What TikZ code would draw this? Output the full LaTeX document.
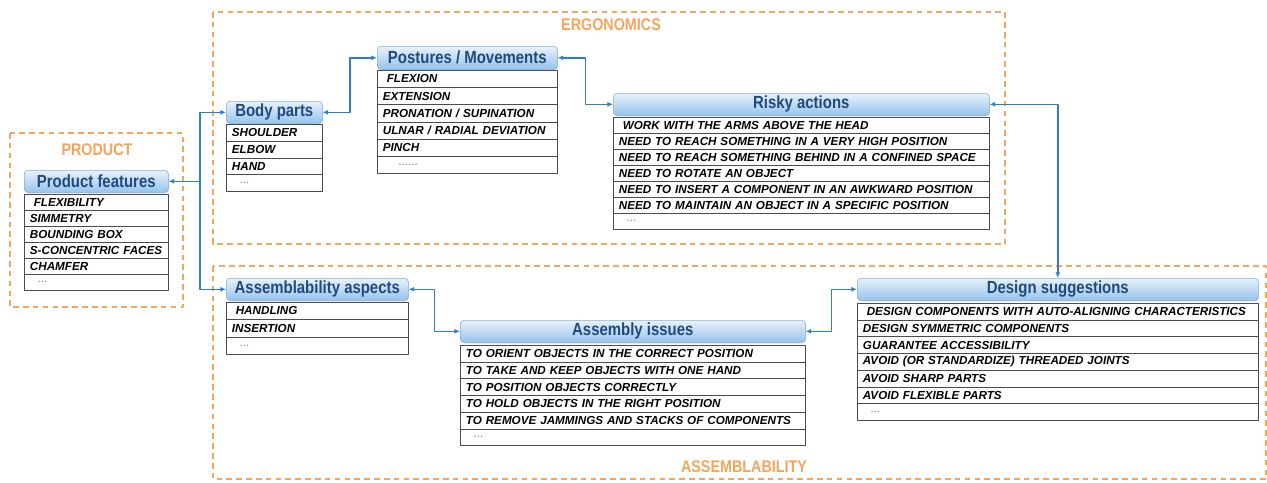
\documentclass[tikz,border=0pt]{standalone}
\usepackage{fontspec}
\setmainfont{Liberation Sans}
\newfontfamily\narrowfont[FakeStretch=0.85]{Liberation Sans}
\usetikzlibrary{arrows.meta,calc,shadows}
\definecolor{hdtop}{HTML}{E8F2FC}
\definecolor{hdbot}{HTML}{96C3EC}
\definecolor{hdline}{HTML}{7DB0DE}
\definecolor{hdtext}{HTML}{1F4A7F}
\definecolor{linkblue}{HTML}{2E80C2}
\definecolor{zoneorange}{HTML}{F5A45C}
\newcommand{\moreitems}{{\mdseries\upshape\color{gray}\ \ ...}}
\newcommand{\manyitems}{{\mdseries\upshape\color{gray}\ \ \ \ ......}}
\begin{document}
\begin{tikzpicture}[x=0.025cm,y=-0.025cm,line join=round,>={Latex[length=4pt,width=3.5pt]},
	header/.style={draw=hdline,rounded corners=2.5pt,top color=hdtop,bottom color=hdbot,
		drop shadow={opacity=0.25,shadow xshift=0.6pt,shadow yshift=-0.9pt},
		text=hdtext,font=\narrowfont\bfseries\fontsize{12.5}{13}\selectfont,
		anchor=north west,inner sep=0pt,minimum height=22*0.025cm},
	item/.style={draw=black!70,fill=white,anchor=north west,inner ysep=0pt,inner xsep=4pt,
		align=left,font=\bfseries\itshape\fontsize{8.3}{9}\selectfont},
	link/.style={draw=linkblue,line width=1.1pt},
	zone/.style={draw=zoneorange,line width=0.9pt,dash pattern=on 4pt off 3pt},
	zonelabel/.style={text=zoneorange,font=\narrowfont\bfseries\fontsize{12}{13}\selectfont}]
	\useasboundingbox (0,0) rectangle (1267,482);
	% Zones
	\draw[zone] (10,133) rectangle (183,307);
	\draw[zone] (213,12) rectangle (1005,244);
	\draw[zone] (213,266) rectangle (1266,479);
	\node[zonelabel] (lprod) at (97,150) {PRODUCT};
	\node[zonelabel] (lergo) at (611,25) {ERGONOMICS};
	\node[zonelabel] (lasse) at (744,467) {ASSEMBLABILITY};
	% Headers
	\node[header,minimum width=144*0.025cm] (pf) at (24,170) {Product features};
	\node[header,minimum width=96*0.025cm] (bp) at (226,101) {Body parts};
	\node[header,minimum width=180*0.025cm,minimum height=23*0.025cm] (pm) at (377,46) {Postures / Movements};
	\node[header,minimum width=376*0.025cm] (ra) at (613,93) {Risky actions};
	\node[header,minimum width=182*0.025cm] (aa) at (226,278) {Assemblability aspects};
	\node[header,minimum width=345*0.025cm] (ai) at (460,320) {Assembly issues};
	\node[header,minimum width=401*0.025cm] (ds) at (857,278) {Design suggestions};
	% Lists
	\foreach \t [count=\i] in {\ FLEXIBILITY,SIMMETRY,BOUNDING BOX,S-CONCENTRIC FACES,CHAMFER,\moreitems}
		\node[item,text width={144*0.025cm-8pt},minimum height=16*0.025cm] (pf\i) at (24,{194+(\i-1)*16}) {\t};
	\foreach \t [count=\i] in {SHOULDER,ELBOW,HAND,\moreitems}
		\node[item,text width={96*0.025cm-8pt},minimum height=16.75*0.025cm] (bp\i) at (226,{124+(\i-1)*16.75}) {\t};
	\foreach \t [count=\i] in {\ FLEXION,EXTENSION,PRONATION / SUPINATION,ULNAR / RADIAL DEVIATION,PINCH,\manyitems}
		\node[item,text width={180*0.025cm-8pt},minimum height=17.2*0.025cm] (pm\i) at (377,{70+(\i-1)*17.2}) {\t};
	\foreach \t [count=\i] in {\ WORK WITH THE ARMS ABOVE THE HEAD,NEED TO REACH SOMETHING IN A VERY HIGH POSITION,
		NEED TO REACH SOMETHING BEHIND IN A CONFINED SPACE,NEED TO ROTATE AN OBJECT,
		NEED TO INSERT A COMPONENT IN AN AWKWARD POSITION,NEED TO MAINTAIN AN OBJECT IN A SPECIFIC POSITION,\moreitems}
		\node[item,text width={376*0.025cm-8pt},minimum height=16*0.025cm] (ra\i) at (613,{117+(\i-1)*16}) {\t};
	\foreach \t [count=\i] in {\ HANDLING,INSERTION,\moreitems}
		\node[item,text width={182*0.025cm-8pt},minimum height=17.3*0.025cm] (aa\i) at (226,{302+(\i-1)*17.3}) {\t};
	\foreach \t [count=\i] in {TO ORIENT OBJECTS IN THE CORRECT POSITION,TO TAKE AND KEEP OBJECTS WITH ONE HAND,
		TO POSITION OBJECTS CORRECTLY,TO HOLD OBJECTS IN THE RIGHT POSITION,
		TO REMOVE JAMMINGS AND STACKS OF COMPONENTS,\moreitems}
		\node[item,text width={345*0.025cm-8pt},minimum height=16.7*0.025cm] (ai\i) at (460,{345+(\i-1)*16.7}) {\t};
	\foreach \t [count=\i] in {\ DESIGN COMPONENTS WITH AUTO-ALIGNING CHARACTERISTICS,DESIGN SYMMETRIC COMPONENTS,
		GUARANTEE ACCESSIBILITY,AVOID (OR STANDARDIZE) THREADED JOINTS,AVOID SHARP PARTS,AVOID FLEXIBLE PARTS,\moreitems}
		\node[item,text width={401*0.025cm-8pt},minimum height=16.7*0.025cm] (ds\i) at (857,{303+(\i-1)*16.7}) {\t};
	% Links
	\coordinate (hub) at (200,0);
	\draw[link,<->] (pf.east) -- (pf.east -| hub) |- (bp.west);
	\draw[link,->] (pf.east -| hub) |- (aa.west);
	\draw[link,<->] (bp.east) -| ($(bp.east)!.5!(pm.west)$) |- (pm.west);
	\draw[link,<->] (pm.east) -| ($(pm.east)!.5!(ra.west)$) |- (ra.west);
	\draw[link,<->] (ra.east) -| (ds.north);
	\draw[link,<->] (aa.east) -| ($(aa.east)!.5!(ai.west)$) |- (ai.west);
	\draw[link,<->] (ai.east) -| ($(ai.east)!.5!(ds.west)$) |- (ds.west);
\end{tikzpicture}
\end{document}
